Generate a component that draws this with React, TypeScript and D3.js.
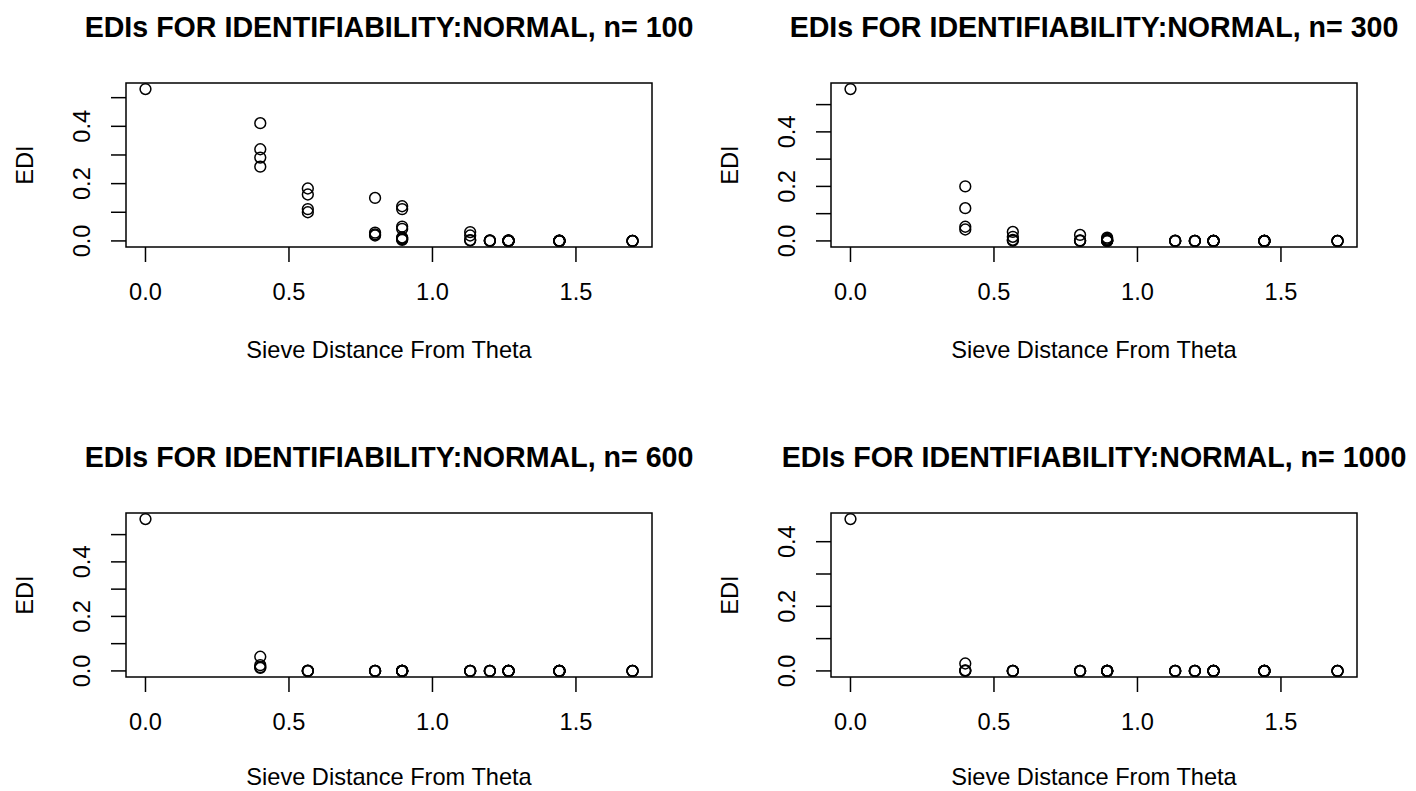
import React from "react";
import * as d3 from "d3";

// Sieve distances from theta (x values shared by all panels)
const distances = [0, 0.4, 0.5657, 0.8, 0.8944, 1.1314, 1.2, 1.2649, 1.4422, 1.6971];

// EDI values grouped by distance, one array per sample size
const edi100 = [
  [0.530],
  [0.411, 0.320, 0.291, 0.259],
  [0.183, 0.162, 0.111, 0.100],
  [0.150, 0.029, 0.023, 0.019],
  [0.121, 0.111, 0.050, 0.042, 0.012, 0.010, 0.006, 0.004],
  [0.031, 0.019, 0.003, 0.002],
  [0.002, 0.001, 0.001, 0.0],
  [0.002, 0.001, 0.001, 0.001, 0.0, 0.0, 0.0, 0.0],
  [0.001, 0.001, 0.0, 0.0, 0.0, 0.0, 0.0, 0.0],
  [0.0, 0.0, 0.0, 0.0],
];
const edi300 = [
  [0.557],
  [0.200, 0.120, 0.052, 0.042],
  [0.033, 0.015, 0.004, 0.001],
  [0.022, 0.002, 0.001, 0.0],
  [0.012, 0.008, 0.004, 0.002, 0.001, 0.001, 0.0, 0.0],
  [0.001, 0.0, 0.0, 0.0],
  [0.0, 0.0, 0.0, 0.0],
  [0.0, 0.0, 0.0, 0.0, 0.0, 0.0, 0.0, 0.0],
  [0.0, 0.0, 0.0, 0.0, 0.0, 0.0, 0.0, 0.0],
  [0.0, 0.0, 0.0, 0.0],
];
const edi600 = [
  [0.557],
  [0.052, 0.021, 0.014, 0.011],
  [0.001, 0.0, 0.0, 0.0],
  [0.0, 0.0, 0.0, 0.0],
  [0.0, 0.0, 0.0, 0.0, 0.0, 0.0, 0.0, 0.0],
  [0.0, 0.0, 0.0, 0.0],
  [0.0, 0.0, 0.0, 0.0],
  [0.0, 0.0, 0.0, 0.0, 0.0, 0.0, 0.0, 0.0],
  [0.0, 0.0, 0.0, 0.0, 0.0, 0.0, 0.0, 0.0],
  [0.0, 0.0, 0.0, 0.0],
];
const edi1000 = [
  [0.470],
  [0.023, 0.002, 0.001, 0.0],
  [0.0, 0.0, 0.0, 0.0],
  [0.0, 0.0, 0.0, 0.0],
  [0.0, 0.0, 0.0, 0.0, 0.0, 0.0, 0.0, 0.0],
  [0.0, 0.0, 0.0, 0.0],
  [0.0, 0.0, 0.0, 0.0],
  [0.0, 0.0, 0.0, 0.0, 0.0, 0.0, 0.0, 0.0],
  [0.0, 0.0, 0.0, 0.0, 0.0, 0.0, 0.0, 0.0],
  [0.0, 0.0, 0.0, 0.0],
];

const sampleSizes = [100, 300, 600, 1000];
const xTicks = [0, 0.5, 1.0, 1.5];
const yTicksA = [0, 0.1, 0.2, 0.3, 0.4, 0.5];
const yTicksB = [0, 0.1, 0.2, 0.3, 0.4];
const yLabelTicks = [0, 0.2, 0.4];

const FONT = "'Liberation Sans', Arial, Helvetica, sans-serif";

type PanelProps = {
  left: number;
  top: number;
  n: number;
  groups: number[][];
  yTicks: number[];
};

function rExtend(lo: number, hi: number): [number, number] {
  const r = hi - lo;
  return [lo - 0.04 * r, hi + 0.04 * r];
}

function Panel({ left, top, n, groups, yTicks }: PanelProps) {
  const W = 526;
  const H = 164;
  const right = left + W;
  const bottom = top + H;
  const pts: { x: number; y: number }[] = [];
  groups.forEach((g, i) => g.forEach((v) => pts.push({ x: distances[i], y: v })));
  const xs = d3.extent(pts, (d) => d.x) as [number, number];
  const ys = d3.extent(pts, (d) => d.y) as [number, number];
  const x = d3.scaleLinear().domain(rExtend(xs[0], xs[1])).range([left, right]);
  const y = d3.scaleLinear().domain(rExtend(ys[0], ys[1])).range([bottom, top]);
  const tl = 15;
  const cx = (left + right) / 2;
  const cy = (top + bottom) / 2;
  return (
    <g>
      <text
        x={cx}
        y={top - 46}
        textAnchor="middle"
        fontFamily={FONT}
        fontWeight="bold"
        fontSize={28.6}
      >
        {`EDIs FOR IDENTIFIABILITY:NORMAL, n= ${n}`}
      </text>
      <rect x={left} y={top} width={W} height={H} fill="none" stroke="#000" strokeWidth={1.5} />
      {xTicks.map((t) => (
        <g key={"x" + t}>
          <line x1={x(t)} x2={x(t)} y1={bottom} y2={bottom + tl} stroke="#000" strokeWidth={1.5} />
          <text x={x(t)} y={bottom + 53} textAnchor="middle" fontFamily={FONT} fontSize={23.6}>
            {d3.format(".1f")(t)}
          </text>
        </g>
      ))}
      {yTicks.map((t) => (
        <line key={"y" + t} x1={left - tl} x2={left} y1={y(t)} y2={y(t)} stroke="#000" strokeWidth={1.5} />
      ))}
      {yLabelTicks.map((t) => (
        <text
          key={"yl" + t}
          transform={`translate(${left - 36},${y(t)}) rotate(-90)`}
          textAnchor="middle"
          fontFamily={FONT}
          fontSize={23.6}
        >
          {d3.format(".1f")(t)}
        </text>
      ))}
      <text
        x={cx}
        y={Math.min(bottom + 111, 785)}
        textAnchor="middle"
        fontFamily={FONT}
        fontSize={23.6}
      >
        Sieve Distance From Theta
      </text>
      <text
        transform={`translate(${left - 93},${cy}) rotate(-90)`}
        textAnchor="middle"
        fontFamily={FONT}
        fontSize={23.6}
      >
        EDI
      </text>
      {pts.map((p, i) => (
        <circle key={i} cx={x(p.x)} cy={y(p.y)} r={5.4} fill="none" stroke="#000" strokeWidth={1.5} />
      ))}
    </g>
  );
}

export default function App() {
  const lefts = [126, 831];
  const tops = [83, 513];
  const all = [edi100, edi300, edi600, edi1000];
  return (
    <svg
      width={1416}
      height={791}
      style={{ position: "absolute", left: 0, top: 0, background: "#fff" }}
    >
      <rect width={1416} height={791} fill="#fff" />
      {all.map((g, i) => (
        <Panel
          key={i}
          left={lefts[i % 2]}
          top={tops[Math.floor(i / 2)]}
          n={sampleSizes[i]}
          groups={g}
          yTicks={i === 3 ? yTicksB : yTicksA}
        />
      ))}
    </svg>
  );
}
